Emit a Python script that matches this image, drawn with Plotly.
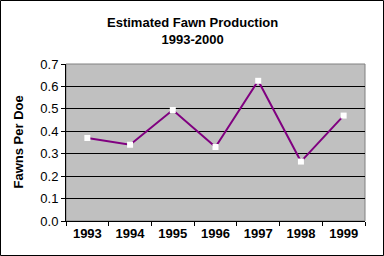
import plotly.graph_objects as go

years = ["1993", "1994", "1995", "1996", "1997", "1998", "1999"]
fawns_per_doe = [0.37, 0.34, 0.495, 0.33, 0.625, 0.265, 0.47]
y_ticks = [0.0, 0.1, 0.2, 0.3, 0.4, 0.5, 0.6, 0.7]

W, H = 384, 256
ml, mr, mt, mb = 66, 19, 64, 35
pw, ph = W - ml - mr, H - mt - mb

fig = go.Figure(go.Scatter(
    x=years, y=fawns_per_doe, mode="lines+markers",
    line=dict(color="#800080", width=2),
    marker=dict(symbol="square", size=6, color="white", line=dict(width=0)),
))

font = dict(family="Liberation Sans, Arial, sans-serif", size=13, color="black")

fig.update_layout(
    width=W, height=H, margin=dict(l=ml, r=mr, t=mt, b=mb),
    paper_bgcolor="white", plot_bgcolor="#C0C0C0",
    showlegend=False, font=font,
    annotations=[
        dict(text="<b>Estimated Fawn Production<br>1993-2000</b>",
             xref="paper", yref="paper", x=0.5 - (ml - mr) / 2 / pw, xanchor="center",
             y=1 + (mt - 13) / ph, yanchor="top", showarrow=False, font=dict(size=13)),
        dict(text="<b>Fawns Per Doe</b>", textangle=-90,
             xref="paper", yref="paper", x=-(ml - 18) / pw, xanchor="center",
             y=0.5, yanchor="middle", showarrow=False, font=dict(size=13)),
    ],
    xaxis=dict(type="category", tickson="boundaries", ticks="outside", ticklen=4,
               tickcolor="black", showline=True, linecolor="black", linewidth=1,
               showgrid=False, range=[-0.5, 6.5], fixedrange=True,
               tickprefix="<b>", ticksuffix="</b>"),
    yaxis=dict(range=[0, 0.7], tickvals=y_ticks, tickformat=".1f", ticks="outside",
               ticklen=4, tickcolor="black", showline=True, linecolor="black",
               showgrid=True, gridcolor="black", gridwidth=1, zeroline=False,
               tickprefix="<b>", ticksuffix="</b>"),
    shapes=[
        dict(type="rect", xref="paper", yref="paper", x0=0, x1=1, y0=0, y1=1,
             line=dict(color="#808080", width=1), layer="below"),
        dict(type="rect", xref="paper", yref="paper",
             x0=-(ml - 0.5) / pw, x1=1 + (mr - 0.5) / pw,
             y0=-(mb - 0.5) / ph, y1=1 + (mt - 0.5) / ph,
             line=dict(color="black", width=1)),
    ],
)

fig.write_html("out.html")
